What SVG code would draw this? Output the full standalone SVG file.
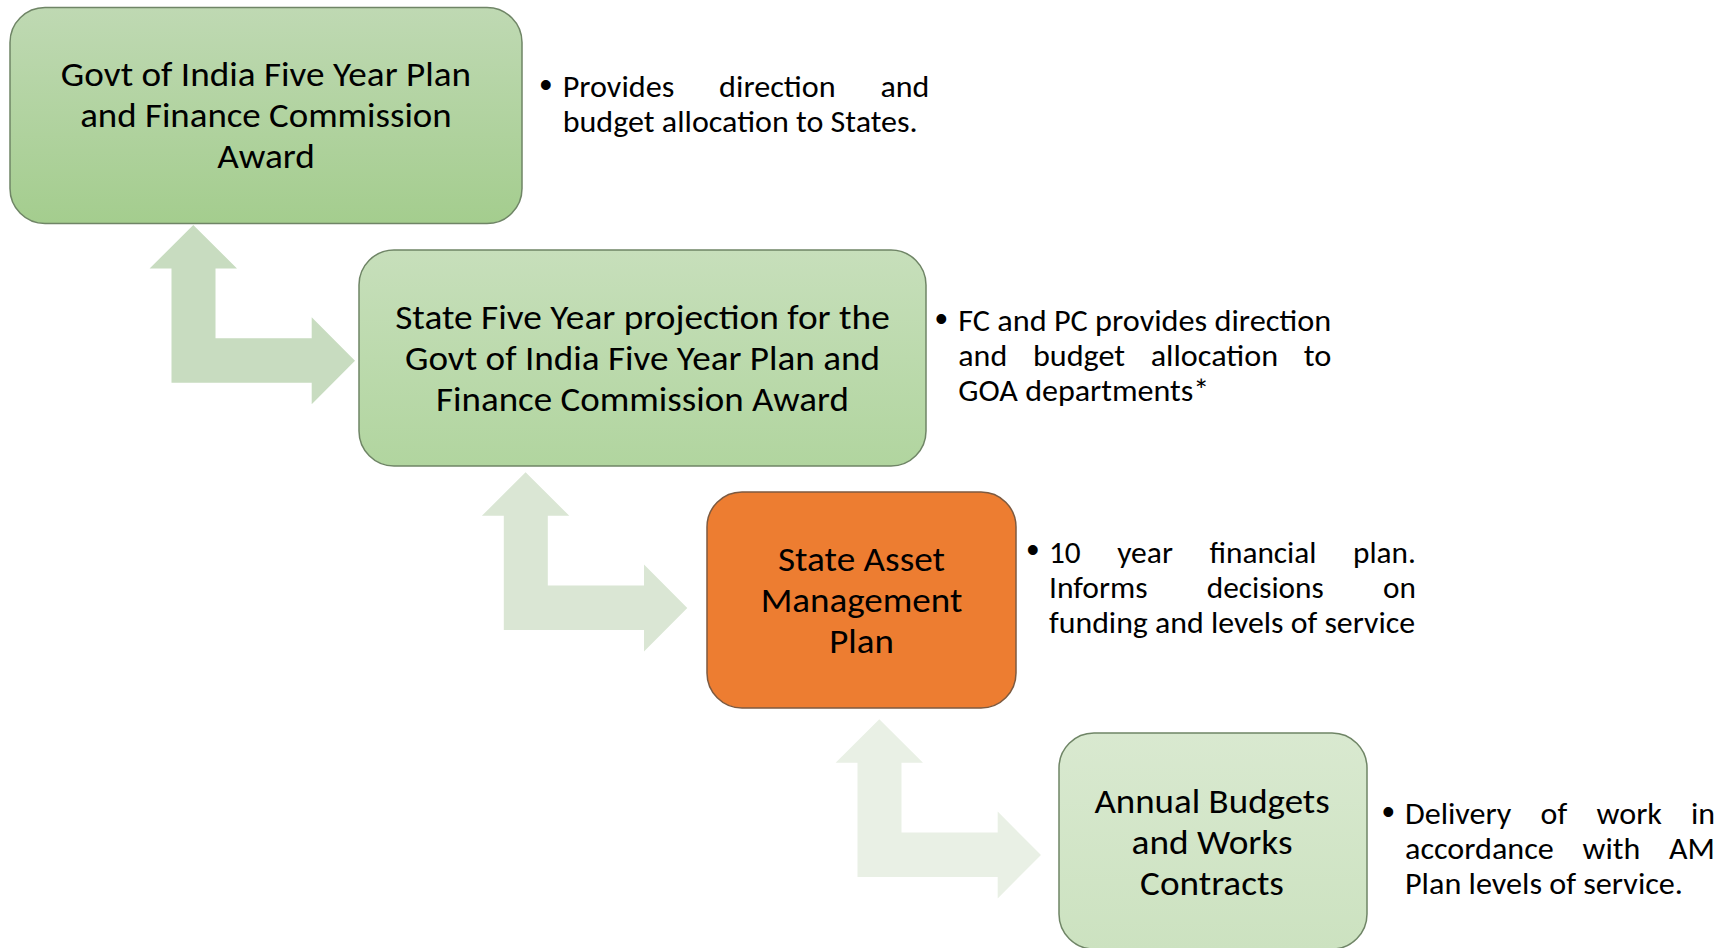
<svg xmlns="http://www.w3.org/2000/svg" width="1731" height="948" viewBox="0 0 1731 948">
  <style>
    .box { stroke-width: 1.5; }
    .green { stroke: #6f8566; }
    .orange { stroke: #7d5a40; fill: #ed7d31; }
    .t { font-family: Carlito, Calibri, Lato, "Liberation Sans", sans-serif; font-size: 34.5px; fill: #000; }
    .n { font-family: Carlito, Calibri, Lato, "Liberation Sans", sans-serif; font-size: 30px; fill: #000; }
    .bul { font-family: "Liberation Sans", Arial, sans-serif; font-size: 36px; fill: #000; }
  </style>
  <defs>
    <linearGradient id="g1" x1="0" y1="0" x2="0" y2="1">
      <stop offset="0" stop-color="#bfd9b3"/>
      <stop offset="1" stop-color="#a4cd8e"/>
    </linearGradient>
    <linearGradient id="g2" x1="0" y1="0" x2="0" y2="1">
      <stop offset="0" stop-color="#c7dfbb"/>
      <stop offset="1" stop-color="#b1d59f"/>
    </linearGradient>
    <linearGradient id="g4" x1="0" y1="0" x2="0" y2="1">
      <stop offset="0" stop-color="#d9e9d0"/>
      <stop offset="1" stop-color="#cce2c0"/>
    </linearGradient>
    <path id="bentArrow" d="M0,0 L43.7,43.5 L22.2,43.5 L22.2,113.3 L118.4,113.3 L118.4,92.2 L161.7,135.7 L118.4,179.2 L118.4,157.7 L-21.8,157.7 L-21.8,43.5 L-43.7,43.5 Z"/>
  </defs>

  <g id="connectors">
    <use href="#bentArrow" transform="translate(193.3,225)" fill="#c8dcc0"/>
    <use href="#bentArrow" transform="translate(525.6,472.3)" fill="#dae6d4"/>
    <use href="#bentArrow" transform="translate(879.3,719.3)" fill="#e9f0e5"/>
  </g>

  <g id="node-goi-plan">
    <rect class="box green" x="10" y="7.5" width="512" height="216" rx="35" ry="35" fill="url(#g1)"/>
    <text class="t" x="60.8" y="86" textLength="410.3" lengthAdjust="spacingAndGlyphs">Govt of India Five Year Plan</text>
    <text class="t" x="80.2" y="127" textLength="371.5" lengthAdjust="spacingAndGlyphs">and Finance Commission</text>
    <text class="t" x="217.2" y="168" textLength="97.7" lengthAdjust="spacingAndGlyphs">Award</text>
  </g>

  <g id="node-state-projection">
    <rect class="box green" x="359" y="250" width="567" height="216" rx="35" ry="35" fill="url(#g2)"/>
    <text class="t" x="395.2" y="329" textLength="494.6" lengthAdjust="spacingAndGlyphs">State Five Year projection for the</text>
    <text class="t" x="405" y="370" textLength="475" lengthAdjust="spacingAndGlyphs">Govt of India Five Year Plan and</text>
    <text class="t" x="436.1" y="411" textLength="412.8" lengthAdjust="spacingAndGlyphs">Finance Commission Award</text>
  </g>

  <g id="node-samp">
    <rect class="box orange" x="707" y="492" width="309" height="216" rx="35" ry="35"/>
    <text class="t" x="778" y="571" textLength="167" lengthAdjust="spacingAndGlyphs">State Asset</text>
    <text class="t" x="760.7" y="612" textLength="201.6" lengthAdjust="spacingAndGlyphs">Management</text>
    <text class="t" x="829.2" y="653" textLength="64.6" lengthAdjust="spacingAndGlyphs">Plan</text>
  </g>

  <g id="node-annual">
    <rect class="box green" x="1059" y="733" width="308" height="216" rx="35" ry="35" fill="url(#g4)"/>
    <text class="t" x="1094.4" y="813" textLength="235.3" lengthAdjust="spacingAndGlyphs">Annual Budgets</text>
    <text class="t" x="1131.5" y="854" textLength="161.1" lengthAdjust="spacingAndGlyphs">and Works</text>
    <text class="t" x="1140.1" y="895" textLength="143.8" lengthAdjust="spacingAndGlyphs">Contracts</text>
  </g>

  <g id="note-goi-plan">
    <text class="bul" x="539.4" y="96.5">•</text>
    <text class="n" y="97"><tspan x="562.7" textLength="111.6" lengthAdjust="spacingAndGlyphs">Provides</tspan><tspan x="719.1" textLength="116.5" lengthAdjust="spacingAndGlyphs">direction</tspan><tspan x="880.4" textLength="48.9" lengthAdjust="spacingAndGlyphs">and</tspan></text>
    <text class="n" x="562.7" y="132" textLength="355" lengthAdjust="spacingAndGlyphs">budget allocation to States.</text>
  </g>

  <g id="note-state-projection">
    <text class="bul" x="935" y="330.5">•</text>
    <text class="n" x="958.3" y="331" textLength="373" lengthAdjust="spacingAndGlyphs">FC and PC provides direction</text>
    <text class="n" y="366"><tspan x="958.3" textLength="48.9" lengthAdjust="spacingAndGlyphs">and</tspan><tspan x="1032.9" textLength="92.1" lengthAdjust="spacingAndGlyphs">budget</tspan><tspan x="1150.7" textLength="127.4" lengthAdjust="spacingAndGlyphs">allocation</tspan><tspan x="1303.7" textLength="27.6" lengthAdjust="spacingAndGlyphs">to</tspan></text>
    <text class="n" x="958.3" y="401" textLength="251" lengthAdjust="spacingAndGlyphs">GOA departments*</text>
  </g>

  <g id="note-samp">
    <text class="bul" x="1026.5" y="562">•</text>
    <text class="n" y="562.5"><tspan x="1049" textLength="31.7" lengthAdjust="spacingAndGlyphs">10</tspan><tspan x="1117.2" textLength="55.7" lengthAdjust="spacingAndGlyphs">year</tspan><tspan x="1209.4" textLength="107.1" lengthAdjust="spacingAndGlyphs">financial</tspan><tspan x="1353" textLength="62.9" lengthAdjust="spacingAndGlyphs">plan.</tspan></text>
    <text class="n" y="597.5"><tspan x="1049" textLength="98.5" lengthAdjust="spacingAndGlyphs">Informs</tspan><tspan x="1206.8" textLength="117" lengthAdjust="spacingAndGlyphs">decisions</tspan><tspan x="1383.1" textLength="32.9" lengthAdjust="spacingAndGlyphs">on</tspan></text>
    <text class="n" x="1049" y="632.5" textLength="366" lengthAdjust="spacingAndGlyphs">funding and levels of service</text>
  </g>

  <g id="note-annual">
    <text class="bul" x="1382" y="823.5">•</text>
    <text class="n" y="824"><tspan x="1405" textLength="106.3" lengthAdjust="spacingAndGlyphs">Delivery</tspan><tspan x="1540.6" textLength="26.6" lengthAdjust="spacingAndGlyphs">of</tspan><tspan x="1596.5" textLength="65.5" lengthAdjust="spacingAndGlyphs">work</tspan><tspan x="1690.9" textLength="24.1" lengthAdjust="spacingAndGlyphs">in</tspan></text>
    <text class="n" y="859"><tspan x="1405" textLength="148.8" lengthAdjust="spacingAndGlyphs">accordance</tspan><tspan x="1582.6" textLength="57.7" lengthAdjust="spacingAndGlyphs">with</tspan><tspan x="1669.1" textLength="45.9" lengthAdjust="spacingAndGlyphs">AM</tspan></text>
    <text class="n" x="1405" y="894" textLength="278" lengthAdjust="spacingAndGlyphs">Plan levels of service.</text>
  </g>
</svg>
